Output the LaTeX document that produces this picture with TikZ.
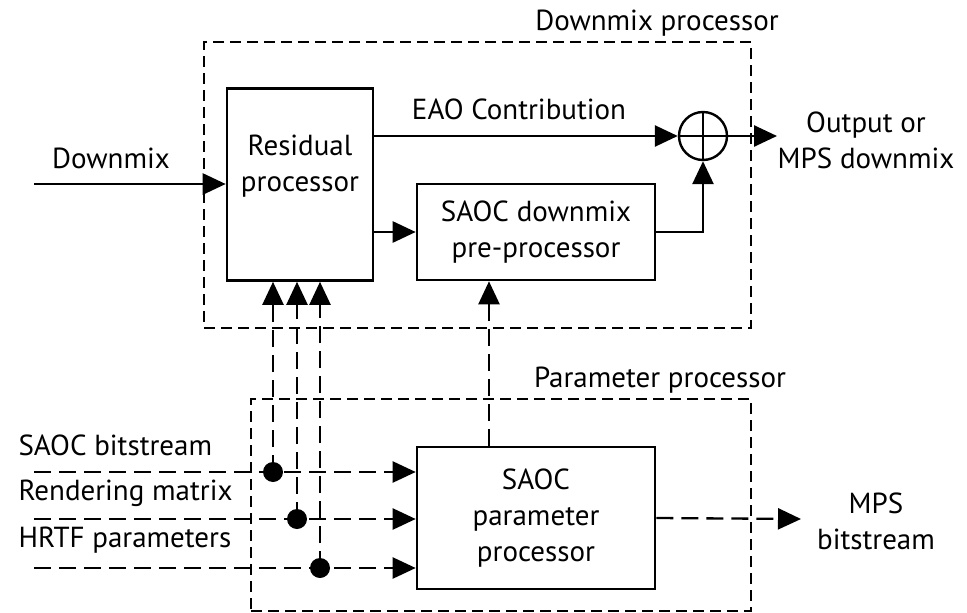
\documentclass[tikz,border=0pt]{standalone}
\usepackage{fontspec}
\setmainfont{PT Sans}
\usetikzlibrary{shapes.geometric, arrows.meta}
\tikzstyle{block} = [rectangle, draw=black, line width=2.6pt, text centered, align=center]
\tikzstyle{group} = [rectangle, draw=black, line width=2.3pt, dash pattern=on 11pt off 6pt]
\tikzstyle{arrow} = [line width=2.6pt, -{Triangle[length=23pt,width=21pt]}]
\tikzstyle{sigarrow} = [line width=2.3pt, dash pattern=on 17pt off 8pt, -{Triangle[length=23pt,width=21pt]}]
\tikzstyle{dot} = [circle, fill=black, minimum size=20pt, inner sep=0pt]
\tikzstyle{adder} = [circle, draw=black, line width=2.4pt, minimum size=48pt, inner sep=0pt,
  path picture={\draw[line width=2.4pt] (path picture bounding box.north) -- (path picture bounding box.south)
  (path picture bounding box.west) -- (path picture bounding box.east);}]

\begin{document}
\begin{tikzpicture}[x=1pt, y=-1pt, font=\fontsize{29}{36}\selectfont]
\useasboundingbox (0,0) rectangle (967,613);
% downmix processor
\node (dmxbox) [group, minimum width=547pt, minimum height=286pt] at (477.5,185) {};
\node (dmxlabel) at (657,23) {Downmix processor};
\node (res) [block, minimum width=146pt, minimum height=192pt] at (300,184.5) {};
\node (restext) [align=center, yshift=18pt] at (res.center) {Residual\\processor};
\node (pre) [block, minimum width=238pt, minimum height=96pt] at (536,232) {SAOC downmix\\pre-processor};
\node (adder) [adder] at (703,136) {};
\node (eao) at (519,109) {EAO Contribution};
\node (dmxlab) at (111,158) {Downmix};
\coordinate (dmxstart) at (34,184);
\node (outlabel) [align=center] at (866,140) {Output or\\MPS downmix};
\coordinate (outend) at (777,136);
% parameter processor
\node (parbox) [group, minimum width=500pt, minimum height=212pt] at (501,505) {};
\node (parlabel) at (660,380) {Parameter processor};
\node (par) [block, minimum width=238pt, minimum height=142pt] at (536,518) {SAOC\\parameter\\processor};
\node (mpslabel) [align=center] at (876,521) {MPS\\bitstream};
\coordinate (mpsend) at (801,519);
\coordinate (in1) at (34,472);
\coordinate (in2) at (34,519);
\coordinate (in3) at (34,568);
\node (lab1) [anchor=west] at (15,445) {SAOC bitstream};
\node (lab2) [anchor=west] at (15,493) {Rendering matrix};
\node (lab3) [anchor=west] at (15,540) {HRTF parameters};
% connectors
\draw [arrow] (dmxstart) -- (dmxstart -| res.west);
\draw [arrow] (res.east |- adder) -- (adder.west);
\draw [arrow] (adder.east) -- (outend);
\draw [arrow] (res.east |- pre.west) -- (pre.west);
\draw [arrow] (pre.east) -| (adder.south);
\draw [sigarrow] ([xshift=-47pt]par.north) -- ([xshift=-47pt]pre.south);
\draw [sigarrow] (par.east) -- (mpsend);
\foreach \i in {1,2,3}
  \draw [sigarrow] (in\i) -- (in\i -| par.west);
\node (dot1) [dot] at (273,472) {};
\node (dot2) [dot] at (297,519) {};
\node (dot3) [dot] at (320,568) {};
\foreach \i in {1,2,3}
  \draw [sigarrow] (dot\i.center) -- (dot\i |- res.south);
\end{tikzpicture}
\end{document}
